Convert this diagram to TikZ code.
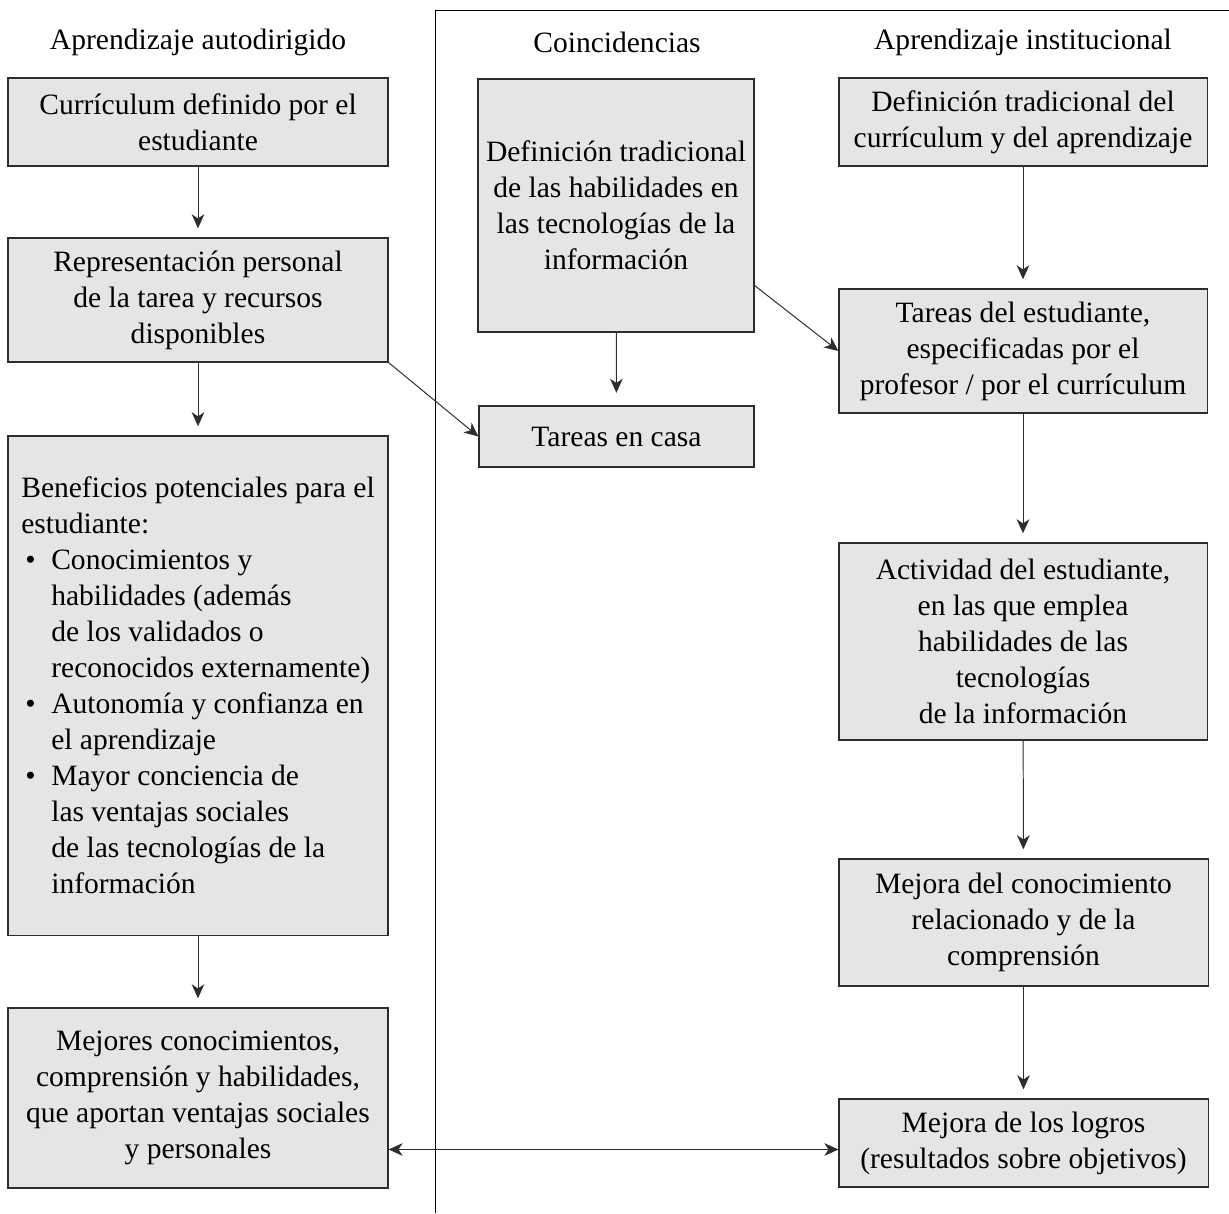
\documentclass[tikz,border=0pt]{standalone}
\usepackage{fontspec}
\setmainfont{Liberation Serif}
\usetikzlibrary{arrows.meta,positioning}
\definecolor{gris}{RGB}{228,229,231}
\definecolor{borde}{RGB}{45,45,45}
\newcommand{\punto}{\hspace*{0.1cm}\makebox[0.65cm][l]{\textbullet}}
\newcommand{\sangria}{\hspace*{0.75cm}}
\begin{document}
\begin{tikzpicture}[x=0.025cm,y=-0.025cm,
    font=\fontsize{21}{25.6}\selectfont,
    caja/.style={draw=borde,fill=gris,line width=0.8pt,inner sep=0pt,align=center},
    flecha/.style={-{Stealth[length=10pt,width=9pt,inset=3pt]},line width=0.7pt,draw=borde},
    flechas/.style={{Stealth[length=10pt,width=9pt,inset=3pt]}-{Stealth[length=10pt,width=9pt,inset=3pt]},line width=0.7pt,draw=borde}]
  \useasboundingbox (0,0) rectangle (1229,1213);
  % marco de la columna central y derecha
  \draw[line width=0.6pt] (435,1213) -- (435,10) -- (1229,10);
  % titulos
  \draw
    (198,42) node (t1) {Aprendizaje autodirigido}
    (617,42) node (t2) {Coincidencias}
    (1023,42) node (t3) {Aprendizaje institucional};
  % columna izquierda
  \draw
    (198,122) node[caja,minimum width=9.5cm,minimum height=2.2cm] (l1)
      {Currículum definido por el\\estudiante}
    (198,300) node[caja,minimum width=9.5cm,minimum height=3.1cm] (l2)
      {Representación personal\\de la tarea y recursos\\disponibles}
    (198,685.5) node[caja,align=left,minimum width=9.5cm,minimum height=12.475cm] (l3)
      {Beneficios potenciales para el\\
       estudiante:\\
       \punto Conocimientos y\\
       \sangria habilidades (además\\
       \sangria de los validados o\\
       \sangria reconocidos externamente)\\
       \punto Autonomía y confianza en\\
       \sangria el aprendizaje\\
       \punto Mayor conciencia de\\
       \sangria las ventajas sociales\\
       \sangria de las tecnologías de la\\
       \sangria información}
    (198,1098) node[caja,minimum width=9.5cm,minimum height=4.5cm] (l4)
      {Mejores conocimientos,\\comprensión y habilidades,\\que aportan ventajas sociales\\y personales};
  % columna central
  \draw
    (616,205.5) node[caja,minimum width=6.9cm,minimum height=6.325cm] (c1)
      {Definición tradicional\\de las habilidades en\\las tecnologías de la\\información}
    (616.5,436.5) node[caja,minimum width=6.875cm,minimum height=1.525cm] (c2)
      {Tareas en casa};
  % columna derecha
  \draw
    (1023,122) node[caja,minimum width=9.2cm,minimum height=2.2cm] (r1)
      {Definición tradicional del\\currículum y del aprendizaje}
    (1023,351) node[caja,minimum width=9.2cm,minimum height=3.1cm] (r2)
      {Tareas del estudiante,\\especificadas por el\\profesor / por el currículum}
    (1023,641.5) node[caja,minimum width=9.2cm,minimum height=4.925cm] (r3)
      {Actividad del estudiante,\\en las que emplea\\habilidades de las\\tecnologías\\de la información}
    (1023.5,922.5) node[caja,minimum width=9.225cm,minimum height=3.175cm] (r4)
      {Mejora del conocimiento\\relacionado y de la\\comprensión}
    (1023.5,1143) node[caja,minimum width=9.225cm,minimum height=2.2cm] (r5)
      {Mejora de los logros\\(resultados sobre objetivos)};
  \begin{scope}[flecha]
    \draw[shorten >=6.5pt] (l1) to (l2);
    \draw[shorten >=6.5pt] (l2) to (l3);
    \draw[shorten >=6.5pt] (l3) to (l4);
    \draw[shorten >=9pt] (c1) to (c2);
    \draw[shorten >=6.5pt] (r1) to (r2);
    \draw[shorten >=6.5pt] (r2) to (r3);
    \draw[shorten >=6.5pt] (r3) to (r4);
    \draw[shorten >=6.5pt] (r4) to (r5);
    \draw (l2.south east) to (c2.west);
    \draw (c1.-30) to (r2.west);
  \end{scope}
  \draw[flechas] (r5.182 -| l4.east) -- (r5.182);
\end{tikzpicture}
\end{document}
